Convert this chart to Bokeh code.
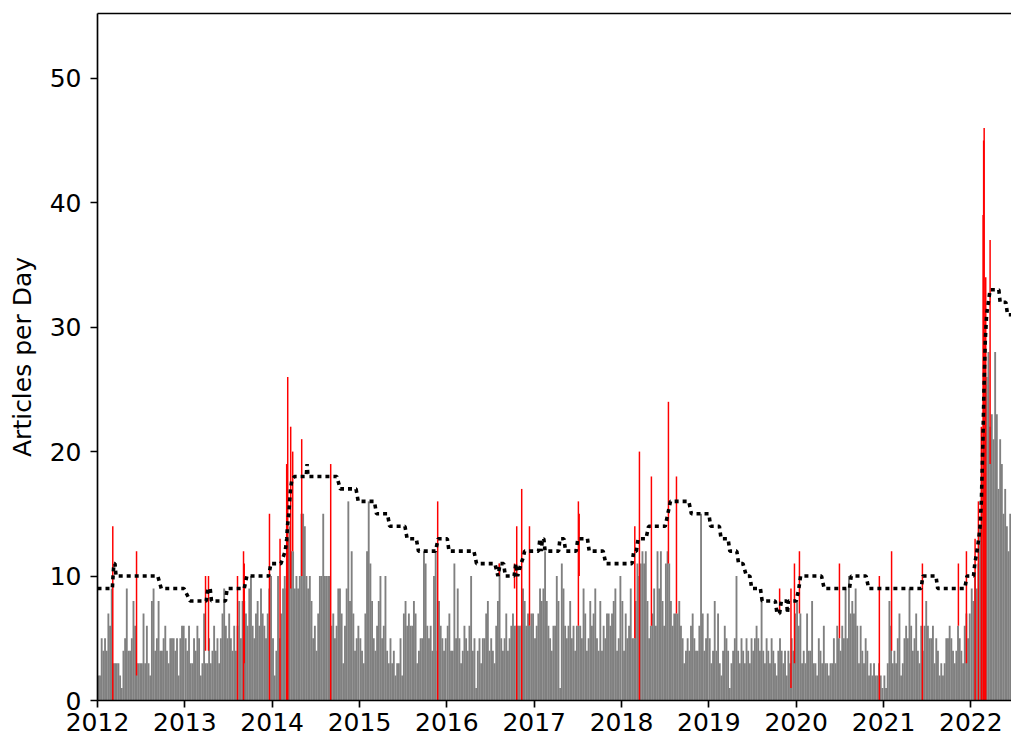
from bokeh.plotting import figure
from bokeh.models import Range1d, FixedTicker, LinearAxis
from bokeh.embed import file_html
from bokeh.resources import INLINE

# weekly article counts (one value per week, starting Jan 1 of each year)
counts_2012 = [2, 2, 5, 4, 5, 4, 7, 6, 9, 3, 3, 3, 3, 2, 1, 4, 5, 9, 4, 4, 5, 8, 6, 3, 3, 3,
               3, 7, 3, 6, 3, 2, 8, 9, 4, 5, 8, 4, 4, 5, 6, 4, 3, 5, 5, 5, 4, 5, 2, 5, 6, 6]
counts_2013 = [5, 4, 6, 3, 3, 5, 4, 6, 5, 2, 3, 7, 3, 3, 5, 3, 4, 6, 4, 5, 3, 5, 7, 9, 6, 5,
               7, 5, 4, 6, 4, 6, 8, 5, 8, 8, 7, 6, 9, 10, 6, 5, 7, 8, 6, 9, 7, 6, 5, 7, 9, 10]
counts_2014 = [5, 2, 4, 10, 5, 7, 9, 10, 9, 13, 14, 12, 12, 9, 10, 9, 10, 15, 15, 14, 10, 9, 10, 8, 5, 6,
               4, 7, 10, 10, 15, 10, 10, 10, 10, 6, 7, 5, 6, 9, 9, 7, 3, 6, 9, 16, 8, 12, 7, 4, 5, 6]
counts_2015 = [5, 4, 3, 7, 12, 16, 11, 8, 5, 4, 6, 8, 10, 5, 6, 10, 4, 3, 5, 3, 4, 2, 3, 3, 5, 2,
               7, 8, 6, 7, 6, 6, 8, 7, 3, 4, 5, 5, 12, 11, 6, 5, 6, 4, 10, 12, 4, 8, 6, 5, 4, 5]
counts_2016 = [6, 7, 4, 4, 11, 5, 9, 5, 3, 4, 6, 5, 4, 6, 10, 4, 5, 1, 4, 5, 3, 5, 5, 7, 8, 4,
               5, 4, 3, 6, 8, 11, 5, 4, 5, 7, 4, 5, 6, 7, 6, 6, 6, 6, 6, 9, 8, 6, 7, 6, 7, 7]
counts_2017 = [5, 6, 7, 9, 8, 9, 12, 8, 6, 5, 4, 6, 6, 10, 8, 1, 11, 9, 6, 5, 6, 8, 5, 6, 4, 6,
               6, 6, 5, 9, 7, 4, 5, 8, 6, 7, 9, 5, 4, 8, 4, 6, 5, 7, 7, 6, 7, 8, 9, 4, 5, 10]
counts_2018 = [8, 4, 7, 5, 6, 9, 5, 5, 8, 11, 10, 11, 12, 11, 12, 8, 5, 6, 7, 9, 6, 12, 9, 12, 8, 6,
               11, 12, 11, 8, 6, 7, 7, 7, 8, 6, 5, 3, 4, 5, 4, 6, 7, 5, 4, 4, 6, 15, 7, 4, 5, 7]
counts_2019 = [5, 3, 4, 8, 4, 7, 3, 2, 4, 6, 5, 4, 1, 3, 4, 5, 10, 4, 3, 5, 4, 3, 5, 4, 3, 5,
               4, 5, 6, 5, 4, 8, 4, 3, 5, 4, 3, 5, 4, 3, 2, 4, 5, 4, 3, 4, 2, 4, 3, 5, 4, 7]
counts_2020 = [8, 6, 7, 3, 4, 3, 7, 4, 4, 8, 3, 3, 2, 5, 4, 3, 6, 3, 3, 2, 3, 3, 5, 3, 6, 5,
               4, 6, 5, 9, 5, 10, 7, 8, 7, 9, 6, 3, 6, 4, 3, 5, 4, 2, 3, 2, 3, 2, 2, 3, 2, 1]
counts_2021 = [2, 1, 3, 8, 6, 3, 4, 3, 5, 7, 2, 3, 5, 6, 5, 9, 6, 4, 5, 7, 4, 3, 6, 4, 6, 8,
               6, 5, 5, 6, 3, 5, 4, 2, 3, 2, 3, 5, 5, 6, 5, 4, 3, 4, 6, 5, 4, 3, 6, 7, 5, 7]
counts_2022 = [9, 8, 10, 9, 11, 14, 18, 22, 20, 26, 28, 22, 23, 21, 28, 23, 17, 21, 19, 15,
               17, 14, 12, 15, 13, 11]

weekly_counts = {
    2012: counts_2012, 2013: counts_2013, 2014: counts_2014, 2015: counts_2015,
    2016: counts_2016, 2017: counts_2017, 2018: counts_2018, 2019: counts_2019,
    2020: counts_2020, 2021: counts_2021, 2022: counts_2022,
}

# anomaly days (fractional year), their counts, and the level where the next bars cover them
spike_x = [2012.175, 2012.447, 2013.237, 2013.271, 2013.603, 2013.672, 2013.680, 2013.969,
           2014.090, 2014.166, 2014.178, 2014.212, 2014.235, 2014.338, 2014.670, 2015.895,
           2016.600, 2016.775, 2016.800, 2016.857, 2016.946, 2017.506, 2017.515,
           2018.152, 2018.205, 2018.342, 2018.537, 2018.629,
           2019.810, 2019.940, 2019.980, 2020.037, 2020.495, 2020.952, 2021.092, 2021.445,
           2021.857, 2021.949, 2022.048, 2022.086, 2022.120, 2022.140, 2022.146, 2022.152,
           2022.170, 2022.220]
spike_top = [14, 12, 10, 10, 10, 12, 11, 15,
             13, 19, 26, 22, 20, 21, 19, 16,
             11, 11, 14, 17, 14, 16, 15,
             14, 20, 18, 24, 18,
             9, 9, 11, 12, 11, 10, 12, 11,
             11, 12, 13, 16, 22, 39, 45, 46,
             34, 37]
spike_base = [0, 2, 4, 4, 0, 0, 3, 0,
              0, 0, 0, 9, 12, 10, 0, 0,
              10, 9, 0, 0, 6, 6, 10,
              5, 0, 6, 11, 7,
              7, 1, 3, 7, 5, 0, 4, 0,
              6, 3, 0, 0, 0, 0, 0, 0,
              0, 19]

# rolling threshold (fractional year, articles per day)
thr_x = [2012.000, 2012.170, 2012.178, 2012.188, 2012.200, 2012.212, 2012.690, 2012.730, 2012.990,
         2013.060, 2013.245, 2013.265, 2013.290, 2013.305, 2013.465, 2013.485, 2013.680, 2013.710,
         2013.960, 2013.985, 2014.100, 2014.149, 2014.167, 2014.175, 2014.190, 2014.200, 2014.210,
         2014.225, 2014.255, 2014.390, 2014.400, 2014.410, 2014.740, 2014.780, 2014.960, 2014.985,
         2015.170, 2015.195, 2015.320, 2015.345, 2015.520, 2015.545, 2015.650, 2015.675, 2015.870,
         2015.900, 2016.005, 2016.025, 2016.310, 2016.340, 2016.550, 2016.585, 2016.610, 2016.650,
         2016.670, 2016.770, 2016.790, 2016.810, 2016.850, 2016.875, 2016.890, 2017.050, 2017.065,
         2017.080, 2017.095, 2017.110, 2017.125, 2017.280, 2017.295, 2017.340, 2017.360, 2017.480,
         2017.500, 2017.610, 2017.630, 2017.790, 2017.820, 2018.120, 2018.140, 2018.170, 2018.190,
         2018.280, 2018.310, 2018.500, 2018.530, 2018.560, 2018.770, 2018.800, 2019.000, 2019.020,
         2019.120, 2019.140, 2019.220, 2019.240, 2019.320, 2019.340, 2019.390, 2019.430, 2019.470,
         2019.490, 2019.590, 2019.610, 2019.760, 2019.780, 2019.810, 2019.830, 2019.890, 2019.900,
         2019.910, 2020.000, 2020.030, 2020.050, 2020.290, 2020.320, 2020.610, 2020.630, 2020.800,
         2020.830, 2021.430, 2021.450, 2021.600, 2021.620, 2021.930, 2021.955, 2022.030, 2022.045,
         2022.070, 2022.090, 2022.105, 2022.120, 2022.135, 2022.150, 2022.165, 2022.180, 2022.200,
         2022.220, 2022.320, 2022.335, 2022.400, 2022.420, 2022.470]
thr_y = [9, 9, 10, 11, 11, 10, 10, 9, 9,
         8, 8, 9, 9, 8, 8, 9, 9, 10,
         10, 11, 11, 12, 13, 14, 15, 16, 17,
         17.7, 18, 18, 19, 18, 18, 17, 17, 16,
         16, 15, 15, 14, 14, 13, 13, 12, 12,
         13, 13, 12, 12, 11, 11, 10, 11, 11,
         10, 10, 11, 10, 11, 11.5, 12, 12, 13,
         12, 13, 13, 12, 12, 13, 13, 12, 12,
         13, 13, 12, 12, 11, 11, 12, 12, 13,
         13, 14, 14, 15, 16, 16, 15, 15, 14,
         14, 13, 13, 12, 12, 11, 11, 10, 10,
         9, 9, 8, 8, 7, 7, 8, 8, 7,
         8, 8, 9, 10, 10, 9, 9, 10, 10,
         9, 9, 10, 10, 9, 9, 10, 10, 11,
         12, 13, 14, 16, 20, 25, 29, 31, 32,
         33, 33, 32, 32, 31, 31]

tick_years = [2012, 2013, 2014, 2015, 2016, 2017, 2018, 2019, 2020, 2021, 2022]
y_ticks = [0, 10, 20, 30, 40, 50]

week = 7 / 365.25
bar_x, bar_top = [], []
for yr, vals in weekly_counts.items():
    for i, v in enumerate(vals):
        bar_x.append(yr + (i + 0.5) * week)
        bar_top.append(v)

p = figure(width=1011, height=742,
           x_range=Range1d(2012.0, 2022.465), y_range=Range1d(0, 55.2),
           output_backend="svg", toolbar_location=None,
           min_border_left=97, min_border_right=0, min_border_top=13, min_border_bottom=42)
p.xgrid.visible = False
p.ygrid.visible = False
p.outline_line_color = None
p.background_fill_color = "white"
p.border_fill_color = "white"

p.vbar(x=bar_x, top=bar_top, bottom=0, width=week * 1.12,
       fill_color="#808080", line_color=None)
p.vbar(x=spike_x, top=spike_top, bottom=spike_base, width=0.017,
       fill_color="#ff0000", line_color=None)
p.line(thr_x, thr_y, line_color="black", line_width=3.6, line_dash="4 4", line_cap="butt")

for ax in (p.xaxis[0], p.yaxis[0]):
    ax.axis_line_width = 1.67
    ax.axis_line_color = "black"
    ax.major_tick_line_width = 1.67
    ax.major_tick_line_color = "black"
    ax.major_tick_in = 0
    ax.major_tick_out = 7
    ax.minor_tick_out = 0
    ax.minor_tick_in = 0
    ax.major_label_text_font = "DejaVu Sans"
    ax.major_label_text_font_size = "25px"
    ax.major_label_text_color = "black"

p.xaxis[0].ticker = FixedTicker(ticks=tick_years)
p.xaxis[0].major_label_overrides = {y: str(y) for y in tick_years}
p.xaxis[0].major_label_standoff = 5
p.yaxis[0].ticker = FixedTicker(ticks=y_ticks)
p.yaxis[0].major_label_standoff = 9
p.yaxis[0].axis_label = "Articles per Day"
p.yaxis[0].axis_label_text_font = "DejaVu Sans"
p.yaxis[0].axis_label_text_font_size = "25px"
p.yaxis[0].axis_label_text_font_style = "normal"
p.yaxis[0].axis_label_text_color = "black"
p.yaxis[0].axis_label_standoff = 10

top_axis = LinearAxis(ticker=FixedTicker(ticks=[]), major_label_text_font_size="0px",
                      major_tick_out=0, major_tick_in=0, minor_tick_out=0, minor_tick_in=0,
                      axis_line_width=1.67, axis_line_color="black")
p.add_layout(top_axis, "above")

open("out.html", "w").write(file_html(p, INLINE))
